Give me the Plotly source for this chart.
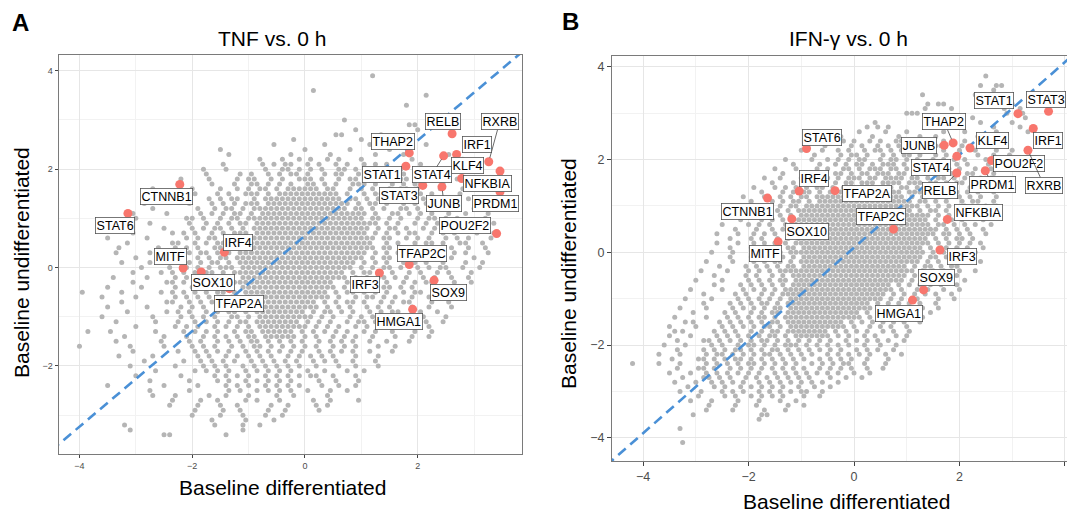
import plotly.graph_objects as go

W, H = 1067, 512

# ---------------- highlighted genes ----------------
GENES_A = ["CTNNB1", "STAT6", "IRF4", "MITF", "SOX10", "TFAP2A", "RELB", "RXRB", "IRF1", "THAP2", "KLF4",
           "NFKBIA", "STAT1", "STAT4", "STAT3", "JUNB", "PRDM1", "POU2F2", "TFAP2C", "IRF3", "SOX9", "HMGA1"]
XA = [-2.22, -3.14, -1.43, -2.16, -1.84, -1.34, 2.61, 3.26, 2.69, 1.85, 2.78,
      3.46, 1.79, 2.46, 2.09, 2.43, 3.46, 3.40, 1.85, 1.32, 2.29, 1.91]
YA = [1.69, 1.10, 0.31, -0.01, -0.09, -0.43, 2.72, 2.15, 2.30, 2.33, 1.81,
      1.96, 2.06, 2.27, 1.67, 1.64, 1.54, 0.69, 0.06, -0.11, -0.26, -0.85]

GENES_B = ["STAT6", "IRF4", "CTNNB1", "SOX10", "MITF", "TFAP2A", "TFAP2C", "STAT1", "STAT3", "IRF1", "THAP2",
           "JUNB", "KLF4", "POU2F2", "RXRB", "PRDM1", "STAT4", "RELB", "NFKBIA", "IRF3", "SOX9", "HMGA1"]
XB = [-0.90, -1.04, -1.64, -1.18, -1.44, -0.36, 0.75, 3.11, 3.69, 3.40, 1.88,
      1.71, 2.20, 2.61, 3.30, 2.49, 1.95, 1.95, 1.77, 1.63, 1.32, 1.11]
YB = [2.24, 1.32, 1.17, 0.72, 0.23, 1.33, 0.50, 2.99, 3.04, 2.67, 2.36,
      2.31, 2.25, 1.98, 2.20, 1.76, 2.07, 1.71, 0.71, 0.05, -0.81, -1.03]

# dashed reference lines (end points, data units)
LINE_A_X = [-4.5, 3.9]
LINE_A_Y = [-3.72, 4.43]
LINE_B_X = [-4.7, 4.1]
LINE_B_Y = [-4.6, 4.2]

# ---------------- background genes (gray), read row by row: '#' = a point, one every 0.1 from the start x ----------------
ROWS_A = [
 (3.9, [(1.2, "#")]), (3.6, [(0.15, "#")]), (3.5, [(2.15, "#")]), (3.3, [(1.8, "#")]), (3.0, [(0.7, "#")]),
 (2.9, [(1.85, "##")]), (2.8, [(0.9, "#"), (2.0, "#")]), (2.7, [(0.55, "##"), (1.35, "#")]),
 (2.6, [(-0.2, "#"), (1.0, "#"), (1.6, "#")]), (2.5, [(-0.55, "#"), (0.35, "#"), (1.15, "#"), (2.15, "#")]),
 (2.4, [(-1.5, "#"), (0.0, "#"), (0.8, "#"), (1.5, "#")]),
 (2.3, [(-1.35, "#"), (-0.25, "#"), (0.45, "#"), (1.25, "#"), (1.75, "#"), (2.55, "#")]),
 (2.2, [(-0.8, "#"), (-0.4, "#..#.#..#.#...#"), (1.9, "#"), (2.8, "#")]),
 (2.1, [(-1.45, "#......#."), (-0.55, "#.##..#.#..#.#..#.#"), (1.25, "..#.....#.")]),
 (2.0, [(-1.8, "#...#....."), (-0.8, ".#..##.#.#.#..##.#.#..#"), (1.5, "..#...#..#")]),
 (1.9, [(-1.95, "..#.....#."), (-0.95, "#..#.#.##.#..#.##..#.#.#.##"), (1.65, ".#...#...#")]),
 (1.8, [(-2.2, "#....#...."), (-1.2, "#.##..#.#..###.#..#.##.#...#.##"), (1.9, "..#..#..#")]),
 (1.7, [(-2.55, "...#.....#.."), (-1.35, ".#..##.#.#.#..##.#.#..###.#..#.#.##"), (2.05, "#...#...#")]),
 (1.6, [(-2.7, "#......#...."), (-1.5, "#..#.#.##.#."), (-0.3, "#####"), (0.2, "#.##..#.#.#..#.##.#."), (2.2, "..#...#..")]),
 (1.5, [(-2.75, "..#.....#..."), (-1.55, "#.#..###.#.#"), (-0.35, "########"), (0.35, ".##.#..#.##.#.#..#."), (2.25, "#....#...")]),
 (1.4, [(-2.8, "....#......"), (-1.7, "#.#.##..#.##"), (-0.5, "###########"), (0.6, "#.##.#.#..##.#.#.."), (2.4, "..#..#...")]),
 (1.3, [(-2.85, "#.......#.."), (-1.75, ".#.#.#.###.#"), (-0.55, "#############"), (0.75, "#.#.##.#..#.#.#..#"), (2.55, ".#...#...")]),
 (1.2, [(-3.0, "...#......."), (-1.9, "#..#.##.#.###"), (-0.6, "##############"), (0.8, ".##.#.#..##.#.#..#"), (2.6, "#...#....")]),
 (1.1, [(-3.05, "#.....#...."), (-1.95, ".#.#.#.##.#.#"), (-0.65, "#################"), (1.05, "#.#..##.#.#.#..#"), (2.65, "..#...#..")]),
 (1.0, [(-3.2, "..#........#"), (-2.0, "#.#..#.##.###"), (-0.7, "##################"), (1.1, ".##.#.#..#.##.#."), (2.7, "#....#...")]),
 (0.9, [(-3.15, "....#......"), (-2.05, "#..#.#.#.##.#"), (-0.75, "####################"), (1.25, "#.#.#..#.#.#..#."), (2.75, "..#...#.")]),
 (0.8, [(-3.3, "#.......#..."), (-2.1, ".#.#.##.#.#.#"), (-0.8, "####################"), (1.2, ".#.##.#..#.#.#.."), (2.8, "#...#...")]),
 (0.7, [(-3.35, "...#......#."), (-2.15, "#.#..#.#.###."), (-0.85, "####################"), (1.25, "#.#.#.##..#.#.#"), (2.85, "..#..#.")]),
 (0.6, [(-3.5, "#......#....."), (-2.2, ".#.#.##.#.#.#"), (-0.9, "#####################"), (1.2, "#.##..#.#.#..#.#"), (2.8, ".#...#.")]),
 (0.5, [(-3.45, "...#.......#"), (-2.25, "#..#.#.##.#.##"), (-0.85, "#####################"), (1.35, ".#.#..#.##.#..#"), (2.85, "#..#..")]),
 (0.4, [(-3.5, "..#......#.."), (-2.3, "#.#.#..##.#.#"), (-1.0, "#######################"), (1.3, ".##.#.#..#.#.#"), (2.7, "..#..#.")]),
 (0.3, [(-3.35, "#.....#..."), (-2.35, ".#.#.##.#.#.##"), (-0.95, "#####################"), (1.25, "#.#.#..#.#.#..#"), (2.75, ".#...#.")]),
 (0.2, [(-3.3, "...#....."), (-2.4, "#.#..#.#.##.##"), (-1.0, "#####################"), (1.1, ".#.##.#.#..#.#."), (2.6, "#...#..")]),
 (0.1, [(-3.25, "#....#..."), (-2.35, ".#.#.#.##.#.#"), (-1.05, "####################"), (1.05, "#.#.#..#.#.#..#."), (2.65, "..#..#.")]),
 (0.0, [(-3.3, "....#...."), (-2.4, "#..#.#.#.###."), (-1.1, "####################"), (0.9, ".#.#.##.#..#.#.#"), (2.5, "#..#..#")]),
 (-0.1, [(-3.25, "..#....#."), (-2.35, "#.#.#.##.#.##"), (-1.05, "##################"), (0.85, "#.##.#.#..#.#..#"), (2.45, ".#...#..")]),
 (-0.2, [(-3.4, "#.....#..."), (-2.4, ".#.#..#.##.#."), (-1.1, "##################"), (0.7, "#.#.#.##.#.#..#.#"), (2.4, "..#..#.")]),
 (-0.3, [(-3.35, "...#.....#"), (-2.35, "#.#.#.#.##.##"), (-1.05, "################"), (0.65, ".#.##.#.#..#.#.#."), (2.25, "#...#..#")]),
 (-0.4, [(-3.5, "#.....#...."), (-2.4, ".#..#.##.#.#.#"), (-1.0, "###############"), (0.5, "#.#.#.#..##.#.#.."), (2.2, ".#..#...")]),
 (-0.5, [(-3.95, "#"), (-3.45, "..#......#."), (-2.35, "#.#.#.#.##.#.#"), (-0.95, "##############"), (0.45, ".#.##.#.#.#..#.#"), (2.05, "#...#..#.")]),
 (-0.6, [(-3.6, "#.....#....."), (-2.4, ".#.#.#.#.#.##."), (-1.0, "##############"), (0.4, "#.#..#.##.#.#..#"), (2.0, "..#...#.#")]),
 (-0.7, [(-3.55, "...#.......#"), (-2.35, "#..#.#.#.##.#."), (-0.95, "############"), (0.25, ".#.#.##.#..#.#.#"), (1.85, "#...#..#.")]),
 (-0.8, [(-3.6, ".#......#...."), (-2.3, ".#.#.#..#.##.#"), (-0.9, "###########"), (0.2, "#.#.#.#..#.#.#.."), (1.8, ".#..#...#")]),
 (-0.9, [(-3.55, "....#......#."), (-2.25, "#.#..#.#.##.#."), (-0.85, "#########"), (0.05, ".#.##.#.#..#.#.#"), (1.65, "#...#..#..")]),
 (-1.0, [(-3.6, "#........#..."), (-2.3, ".#.#.#.#..##.#."), (-0.8, "#########"), (0.1, "#.#.#..#.#.#.#"), (1.6, "..#..#...#")]),
 (-1.1, [(-3.55, "..#......#..."), (-2.25, "#..#.#.#.#.##.#"), (-0.75, "#######"), (-0.05, ".#.#.#..#.##.#."), (1.45, "#...#..#..#")]),
 (-1.2, [(-3.5, ".....#......#"), (-2.2, ".#.#..#.#.#.#.#"), (-0.7, "#######"), (0.0, "#.#.#.#..#.#."), (1.4, ".#..#...#..")]),
 (-1.3, [(-3.85, "#"), (-3.45, "#.......#...."), (-2.15, "#.#.#.#..#.##.#"), (-0.65, "#####"), (-0.15, ".#.#.#.#.#..#."), (1.25, "#..#...#..#")]),
 (-1.4, [(-3.5, "...#......#.."), (-2.2, ".#..#.#.#.#.##.#"), (-0.6, "####"), (-0.2, "#.#.#..#.#.#"), (1.1, ".#...#..#..#")]),
 (-1.5, [(-3.35, "#.......#...."), (-2.05, "#.#..#.#.#.##.#.#.#.#..#.#.#.#"), (0.95, "..#..#...#.")]),
 (-1.6, [(-4.0, "#"), (-3.4, "...#.....#..."), (-2.1, ".#.#.#..#.#.##.#.#.#.#.#..#.#."), (0.9, "#...#..#..")]),
 (-1.7, [(-3.25, "..#.......#.."), (-1.95, "#.#.#.#..#.#.#.#.#.#..#.#.#"), (0.75, ".#..#...#..")]),
 (-1.8, [(-3.3, "#.....#......"), (-2.0, ".#.#..#.#.#.#.#..#.#.#.#.#."), (0.7, "..#...#..")]),
 (-1.9, [(-3.15, "...#......#.."), (-1.85, "#.#.#.#..#.#.#.#.#..#.#."), (0.55, "#..#...#..")]),
 (-2.0, [(-3.2, ".#.......#..."), (-1.9, ".#.#.#..#.#.#.#.#.#..#."), (0.4, "..#..#...#")]),
 (-2.1, [(-3.05, "....#......#."), (-1.75, "#.#.#..#.#.#.#.#..#."), (0.25, ".#...#..#..")]),
 (-2.2, [(-3.0, "#.......#...."), (-1.7, ".#.#.#.#..#.#.#.#.#"), (0.2, "#..#...#..")]),
 (-2.3, [(-2.95, "..#......#..."), (-1.55, "#.#..#.#.#.#.#.."), (0.05, "..#..#...#.")]),
 (-2.4, [(-3.5, "#"), (-2.9, "....#.....#..."), (-1.5, ".#.#.#..#.#.#."), (-0.1, "#...#..#..#")]),
 (-2.5, [(-2.75, "#......#....."), (-1.35, "#.#..#.#.#"), (-0.35, ".#..#...#..#.")]),
 (-2.6, [(-2.7, "#...#.....#..#...#....#..#.....#..")]),
 (-2.7, [(-2.55, "..#....#..#....#.#...#.....#..#....#")]),
 (-2.8, [(-2.4, "#....#...#..#.....#..#....#.#")]),
 (-2.9, [(-2.15, "..#....#..#....#..#.....#")]),
 (-3.0, [(-2.0, "#....#...#...#..#")]),
 (-3.1, [(-1.75, ".#.....#....#")]),
 (-3.2, [(-3.2, "#"), (-1.6, "#....#..#")]),
 (-3.3, [(-3.1, "#"), (-1.1, "#")]),
 (-3.4, [(-2.5, "##"), (-1.4, "#")]),
]

ROWS_B = [
 (3.8, [(2.5, "#")]), (3.6, [(2.4, "#..##")]), (3.5, [(2.65, "#")]), (3.4, [(1.3, "#"), (2.3, "#.....#")]),
 (3.2, [(1.4, "#.##"), (2.5, "#....#")]), (3.1, [(1.35, "#....#"), (2.85, "#..#")]),
 (3.0, [(1.0, "###"), (2.9, "#..#")]), (2.9, [(1.55, "#"), (2.25, "#"), (3.25, "#")]),
 (2.8, [(0.4, "#"), (1.9, "#....#.....#")]), (2.7, [(0.25, "#.#.#"), (1.45, "#"), (2.65, "#....#")]),
 (2.6, [(0.1, "#....#...#......#...#.....#.....#")]),
 (2.5, [(-0.25, "#.....#....#...#..#.......#....#")]),
 (2.4, [(-0.6, "#...#."), (0.0, "#..#.#..##.#..#"), (1.5, "..#...#....#..")]),
 (2.3, [(-0.75, "..#..."), (-0.15, ".#.#..#.#.#..#.#.#"), (1.65, "#...#...#..#..")]),
 (2.2, [(-1.0, "#...#.."), (-0.3, "#.#..#.##.#.#..#.#..#"), (1.8, "..#..#...#..#")]),
 (2.1, [(-1.05, "...#..."), (-0.35, ".#.##.#..#.#.##.#..#.#."), (1.95, "#...#..#..#.")]),
 (2.0, [(-1.3, "#....#.."), (-0.5, "#.#.#.##..#.##.#.#..#.#.#"), (2.0, ".#...#..#..")]),
 (1.9, [(-1.35, "..#...."), (-0.65, "#..#.#.##.#.###.#..#.##.#.#."), (2.15, "#...#..#..")]),
 (1.8, [(-1.5, "#...#.."), (-0.8, ".#.#..##.#.###.##.#.##.#..#.#"), (2.1, "..#..#..#")]),
 (1.7, [(-1.55, "..#..."), (-0.95, "#.#.#.##.#.##.###.##.#.##.#.#..#"), (2.25, "#...#...")]),
 (1.6, [(-1.7, "#..#.."), (-1.1, ".#.#.##.#.###.##.####.##.#.##.#.#"), (2.2, "..#.#..")]),
 (1.5, [(-1.75, "..#..."), (-1.15, "#.#..##.#.##.###.####.###.##.#.##.#"), (2.35, "#..#..")]),
 (1.4, [(-1.9, "#...#."), (-1.3, "#.#.#.##.#.#"), (-0.1, "####"), (0.3, "#.###.##.#.##.#.#..#"), (2.3, ".#..#.")]),
 (1.3, [(-1.95, "..#..."), (-1.35, "#.#.##.#.##"), (-0.25, "########"), (0.55, "#.##.###.#.##.#.#."), (2.35, "#..#..")]),
 (1.2, [(-2.1, "#...#."), (-1.5, ".#.#.##.##"), (-0.5, "#############"), (0.8, "##.#.##.#.#.#.#"), (2.3, ".#..#.")]),
 (1.1, [(-2.15, "..#..."), (-1.55, "#.#.##.#."), (-0.65, "#################"), (1.05, "#.##.#.#..#.#"), (2.35, "#..#.")]),
 (1.0, [(-2.3, "#...#."), (-1.7, ".#.#.##.#"), (-0.8, "###################"), (1.1, "##.#.#.#..#."), (2.3, "..#.#")]),
 (0.9, [(-2.25, "..#..."), (-1.65, "#.#.#.##"), (-0.85, "####################"), (1.25, "#.##.#..#.#"), (2.35, ".#..")]),
 (0.8, [(-2.4, "#...#."), (-1.8, ".#..#.#.#"), (-0.9, "######################"), (1.3, "##.#.#.#.#"), (2.3, "#...#")]),
 (0.7, [(-2.35, "..#..."), (-1.75, "#.#.#.##"), (-0.95, "#######################"), (1.35, "#.#.##.#."), (2.35, ".#..")]),
 (0.6, [(-2.5, "#....#"), (-1.9, ".#.#..#.#"), (-1.0, "########################"), (1.4, "#.##.#.#."), (2.3, "#..#")]),
 (0.5, [(-2.45, "..#..."), (-1.85, "#..#.#.##"), (-0.95, "#########################"), (1.55, "#.#.#.#"), (2.35, ".#.")]),
 (0.4, [(-2.6, "#...#."), (-2.0, ".#.#.#..##"), (-1.0, "#########################"), (1.5, "#.##.#.#"), (2.3, "..#.")]),
 (0.3, [(-2.55, "..#..."), (-1.95, "#.#..#.#.#"), (-0.95, "########################"), (1.45, ".#.#.##."), (2.25, "#..")]),
 (0.2, [(-2.6, "#...#."), (-2.0, ".#.#.#.#.#"), (-1.0, "########################"), (1.4, "#.#.#.#.#"), (2.3, ".#.")]),
 (0.1, [(-2.55, "..#..."), (-1.95, "#..#.#.##."), (-0.95, "#######################"), (1.35, ".#.##.#."), (2.15, "#..#")]),
 (0.0, [(-2.7, "#...#.."), (-2.0, ".#.#..#.##"), (-1.0, "#######################"), (1.3, "#.#.#.#.#"), (2.2, ".#..")]),
 (-0.1, [(-2.65, "...#..."), (-1.95, "#.#.#.#.#."), (-0.95, "#######################"), (1.25, "#.##.#.#"), (2.05, "..#.")]),
 (-0.2, [(-2.8, "#....#.."), (-2.0, ".#.#.##.#."), (-1.0, "######################"), (1.2, "#.#.#..#."), (2.1, "#..#")]),
 (-0.3, [(-2.75, "..#...."), (-2.05, "#.#.#.#.##."), (-0.95, "####################"), (1.05, ".#.##.#.#"), (1.95, "#...")]),
 (-0.4, [(-2.9, "#....#.."), (-2.1, ".#.#.#.###"), (-1.1, "######################"), (1.1, "#.#.#.#."), (1.9, ".#..#")]),
 (-0.5, [(-2.85, "..#....."), (-2.05, "#.#..#.#.#"), (-1.05, "####################"), (0.95, "#.#.#.#."), (1.75, "..#..")]),
 (-0.6, [(-3.0, "#....#..."), (-2.1, ".#.#.#.##."), (-1.1, "####################"), (0.9, "#.#..#.#"), (1.7, ".#..#.")]),
 (-0.7, [(-2.95, "...#...."), (-2.15, "#.#.#.#.#.#"), (-1.05, "##################"), (0.75, ".#.#.#.#."), (1.65, "#..#.")]),
 (-0.8, [(-3.1, "#.....#.."), (-2.2, ".#.#.#.#.#"), (-1.2, "###################"), (0.7, "#.#..#.#."), (1.6, ".#..#")]),
 (-0.9, [(-3.05, "..#....."), (-2.25, "#.#..#.#.##"), (-1.15, "#################"), (0.55, "#.#.#.#.#"), (1.45, ".#..#.")]),
 (-1.0, [(-3.2, "#....#..."), (-2.3, ".#.#.#.#.#."), (-1.2, "#################"), (0.5, "#.#.#..#."), (1.4, "..#..#")]),
 (-1.1, [(-3.15, "...#...."), (-2.35, "#.#.#.##.#.#"), (-1.15, "###############"), (0.35, ".#.#.#.#."), (1.25, "#..#..")]),
 (-1.2, [(-3.3, "#....#..."), (-2.4, ".#.#.#.#.##."), (-1.2, "###############"), (0.3, "#.#..#.#."), (1.2, ".#..#.")]),
 (-1.3, [(-3.25, "..#....."), (-2.45, "#.#..#.#.##.#"), (-1.15, "#############"), (0.15, ".#.#.#.#."), (1.05, "#...#.")]),
 (-1.4, [(-3.4, "#.....#.."), (-2.5, ".#.#.#.##.#.#"), (-1.2, "#############"), (0.1, "#.#.#..#.#"), (1.1, "..#..")]),
 (-1.5, [(-3.2, "#"), (-3.35, "...#...."), (-2.55, "#.#.#.#.#.##.#"), (-1.15, "##########"), (-0.15, ".#.#.#.#.#."), (0.95, "#..#.")]),
 (-1.6, [(-3.5, "#....#..."), (-2.6, ".#.#.#.#.##.#."), (-1.2, "##########"), (-0.2, "#.#..#.#.#."), (0.9, ".#..")]),
 (-1.7, [(-3.4, "#"), (-3.45, "..#....."), (-2.65, "#.#.#..#.#.##.#"), (-1.15, "#######"), (-0.45, ".#.#.#.#..#."), (0.75, "#..#.")]),
 (-1.8, [(-3.5, "#...#..."), (-2.7, ".#.#.#.#.#.##.#."), (-1.1, "######"), (-0.5, "#.#.#..#.#."), (0.7, ".#.#")]),
 (-1.9, [(-3.55, "..#....#"), (-2.75, "#.#.#.#.#.##.#.#.#.#.#.#..#.#.#.#"), (0.55, ".#..#")]),
 (-2.0, [(-3.6, "#...#..."), (-2.8, ".#.#..#.##.#.#.###.#.#.#.#.#..#."), (0.5, "#..#.")]),
 (-2.1, [(-3.55, "..#...."), (-2.85, "#.#.#.##.#.#.##.#.#.#.#.#.#..#.#"), (0.35, ".#..#.")]),
 (-2.2, [(-3.7, "#...#..."), (-2.9, ".#.##.#.#.#.##.#.#.#.#..#.#.#.#."), (0.3, "#..#..#")]),
 (-2.3, [(-3.65, "..#....#"), (-2.85, "#.#.#.##.#.#.#.#.#.#..#.#.#.#."), (0.15, ".#...#..")]),
 (-2.4, [(-4.2, "#"), (-3.7, "#...#..."), (-2.9, ".#.#.#.#.##.#.#.#.#..#.#.#.#"), (-0.1, "#..#...#.")]),
 (-2.5, [(-3.55, "..#...#"), (-2.85, "#.#..#.#.#.#.#.#.#.#..#.#.#"), (-0.15, ".#..#..#")]),
 (-2.6, [(-3.5, "#...#."), (-2.9, ".#.#.#.#.#.#..#.#.#.#.#.#."), (-0.3, "#..#..#.")]),
 (-2.7, [(-3.45, "..#...#"), (-2.75, "#.#.#..#.#.#.#.#.#.#.."), (-0.55, ".#..#..#")]),
 (-2.8, [(-3.4, "#...#."), (-2.8, ".#.#.#.#..#.#.#.#.#.#."), (-0.6, "#..#..")]),
 (-2.9, [(-3.35, "..#...."), (-2.65, "#.#..#.#.#.#.#..#."), (-0.85, ".#..#..")]),
 (-3.0, [(-3.3, "#...#.."), (-2.6, ".#.#.#..#.#.#.#.#"), (-0.9, "#..#..")]),
 (-3.1, [(-3.15, "..#...."), (-2.45, "#.#..#.#.#.#."), (-1.05, ".#..#")]),
 (-3.2, [(-3.1, "#...#....#...#...#..#")]),
 (-3.3, [(-2.95, "..#....#...#.....#..#")]),
 (-3.4, [(-2.8, "#....#.....#...#")]),
 (-3.5, [(-3.05, "#"), (-1.75, "##")]),
 (-3.6, [(-1.8, "#")]),
 (-3.8, [(-3.3, "#")]),
 (-4.1, [(-3.25, "#")]),
]

# label offsets (pixels, label centre relative to its point) and which labels get a leader segment
OFFS_A = {"CTNNB1": (-13, 12), "STAT6": (-13, 12), "IRF4": (14, -10), "MITF": (-13, -12), "SOX10": (12, 11),
          "TFAP2A": (10, 15), "RELB": (-9, -12), "RXRB": (11, -40), "IRF1": (20, -10), "THAP2": (-16, -11),
          "KLF4": (6, -13), "NFKBIA": (-13, 12), "STAT1": (-24, 8), "STAT4": (-12, 19), "STAT3": (-24, 10),
          "JUNB": (2, 17), "PRDM1": (-5, 12), "POU2F2": (-32, -8), "TFAP2C": (13, -11), "IRF3": (-14, 12),
          "SOX9": (14, 12), "HMGA1": (-14, 12)}
SEG_A = {"RXRB", "STAT4", "JUNB"}
OFFS_B = {"STAT6": (15, -11), "IRF4": (15, -13), "CTNNB1": (-20, 13), "SOX10": (15, 13), "MITF": (-13, 12),
          "TFAP2A": (32, 3), "TFAP2C": (-13, -13), "STAT1": (-24, -13), "STAT3": (-3, -12), "IRF1": (15, 12),
          "THAP2": (-9, -21), "JUNB": (-25, 0), "KLF4": (23, -7), "POU2F2": (27, 3), "RXRB": (16, 35),
          "PRDM1": (7, 14), "STAT4": (-26, 11), "RELB": (-17, 17), "NFKBIA": (31, -7), "IRF3": (22, 6),
          "SOX9": (13, -12), "HMGA1": (-14, 13)}
SEG_B = {"THAP2", "RXRB", "PRDM1", "RELB"}


def decode(rows):
    seen = set()
    xs, ys = [], []
    for y, segs in rows:
        for x0, pat in segs:
            for i, ch in enumerate(pat):
                if ch == "#":
                    x = round(x0 + 0.1 * i, 2)
                    if (x, y) not in seen:
                        seen.add((x, y))
                        xs.append(x)
                        ys.append(y)
    return xs, ys


GAX, GAY = decode(ROWS_A)
GBX, GBY = decode(ROWS_B)

GRAY = "#b5b5b5"
RED = "#f8766d"
BLUE = "#4a90d6"
FONT = "Liberation Sans"

fig = go.Figure()
for gx, gy, xr, yr in [(GAX, GAY, "x", "y"), (GBX, GBY, "x2", "y2")]:
    fig.add_trace(go.Scatter(x=gx, y=gy, mode="markers", xaxis=xr, yaxis=yr,
                             marker=dict(size=5.0, color=GRAY, line=dict(width=0)), hoverinfo="skip",
                             showlegend=False))
fig.add_trace(go.Scatter(x=LINE_A_X, y=LINE_A_Y, mode="lines", xaxis="x", yaxis="y",
                         line=dict(color=BLUE, width=2.6, dash="10px,6px"), showlegend=False))
fig.add_trace(go.Scatter(x=LINE_B_X, y=LINE_B_Y, mode="lines", xaxis="x2", yaxis="y2",
                         line=dict(color=BLUE, width=2.6, dash="10px,6px"), showlegend=False))
fig.add_trace(go.Scatter(x=XA, y=YA, mode="markers", xaxis="x", yaxis="y",
                         marker=dict(size=9, color=RED, line=dict(width=0)), showlegend=False))
fig.add_trace(go.Scatter(x=XB, y=YB, mode="markers", xaxis="x2", yaxis="y2",
                         marker=dict(size=9, color=RED, line=dict(width=0)), showlegend=False))

ann = []
for genes, xs, ys, offs, segs, xr, yr in [(GENES_A, XA, YA, OFFS_A, SEG_A, "x", "y"),
                                          (GENES_B, XB, YB, OFFS_B, SEG_B, "x2", "y2")]:
    for g, x, y in zip(genes, xs, ys):
        dx, dy = offs[g]
        ann.append(dict(x=x, y=y, xref=xr, yref=yr, text=g, showarrow=True, ax=dx, ay=dy,
                        arrowhead=0, arrowwidth=0.8, standoff=4,
                        arrowcolor="#444444" if g in segs else "rgba(0,0,0,0)",
                        font=dict(family=FONT, size=12.5, color="black"),
                        bgcolor="white", bordercolor="#555555", borderwidth=0.8, borderpad=0.8))


def P(px, py):
    return px / W, 1 - py / H


def text(px, py, s, size, angle=0, bold=False):
    x, y = P(px, py)
    ann.append(dict(x=x, y=y, xref="paper", yref="paper", showarrow=False, xanchor="center", yanchor="middle",
                    text=f"<b>{s}</b>" if bold else s, textangle=angle,
                    font=dict(family=FONT, size=size, color="black")))


text(20, 22, "A", 24, bold=True)
text(570, 21, "B", 24, bold=True)
text(272, 38, "TNF vs. 0 h", 21)
text(848, 38, "IFN-γ vs. 0 h", 21)
text(282, 487, "Baseline differentiated", 21)
text(846, 501, "Baseline differentiated", 21)
text(21, 263, "Baseline undifferentiated", 21, angle=-90)
text(568, 274, "Baseline undifferentiated", 21, angle=-90)


def axis(dom, rng, size, ticklen, anchor):
    return dict(domain=dom, range=rng, dtick=2, tick0=0, ticks="outside", ticklen=ticklen, tickwidth=1,
                tickcolor="#444", tickfont=dict(family=FONT, size=size, color="#4d4d4d"),
                showgrid=True, gridcolor="#e6e6e6", gridwidth=1, zeroline=False,
                showline=True, mirror=True, linecolor="#7a7a7a", linewidth=1,
                minor=dict(dtick=1, tick0=0, showgrid=True, gridcolor="#f2f2f2", gridwidth=0.6),
                anchor=anchor, automargin=False, fixedrange=True)


fig.update_layout(
    width=W, height=H, autosize=False, margin=dict(l=0, r=0, t=0, b=0),
    paper_bgcolor="white", plot_bgcolor="white", showlegend=False,
    xaxis=axis([58.6 / W, 522 / W], [-4.37, 3.85], 9, 3, "y"),
    yaxis=axis([1 - 454 / H, 1 - 55 / H], [-3.79, 4.32], 9, 3, "x"),
    xaxis2=axis([612 / W, 1.0], [-4.59, 4.04], 12.5, 4, "y2"),
    yaxis2=axis([1 - 461 / H, 1 - 55.7 / H], [-4.5, 4.24], 12.5, 4, "x2"),
    annotations=ann,
)

fig.write_html("out.html")
